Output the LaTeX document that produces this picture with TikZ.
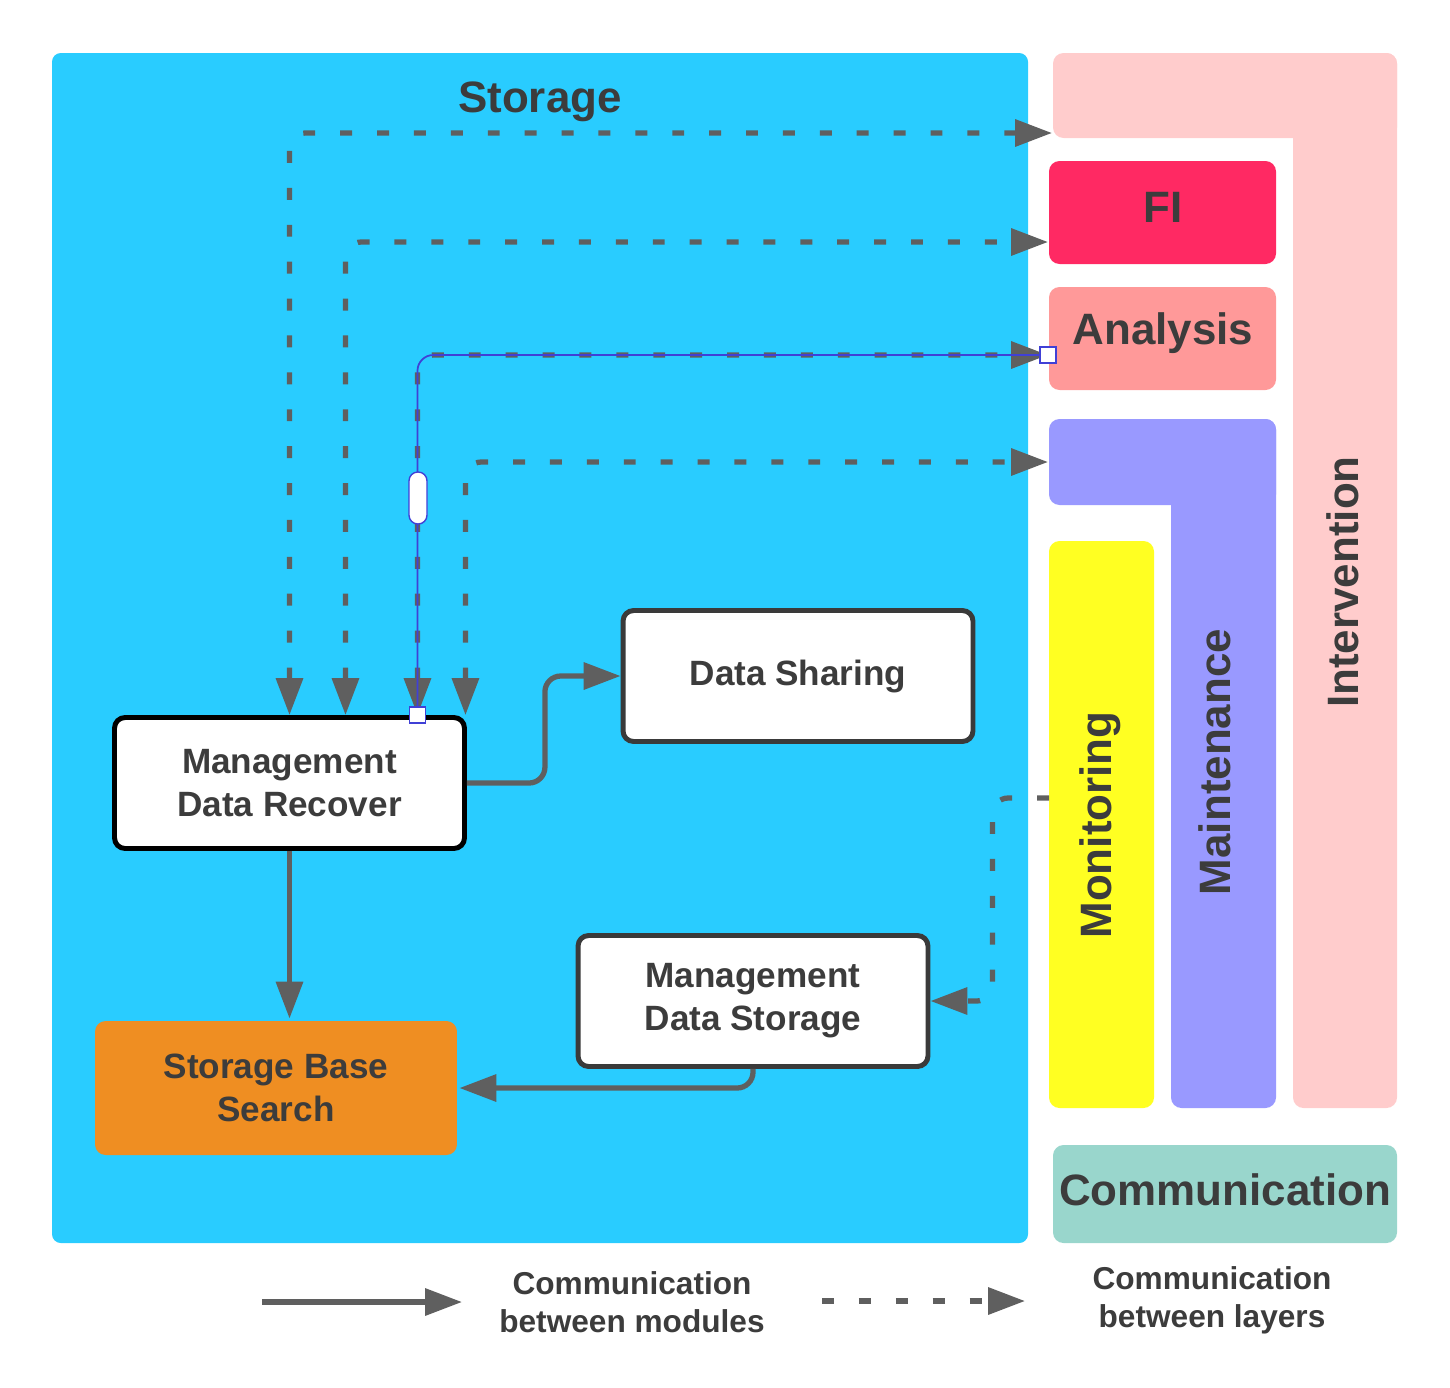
\documentclass[tikz,border=0pt]{standalone}
\usepackage{fontspec}
\setmainfont{Liberation Sans}
\usetikzlibrary{arrows.meta}
\definecolor{storageblue}{RGB}{41,204,255}
\definecolor{intvpink}{RGB}{255,204,204}
\definecolor{fired}{RGB}{255,41,99}
\definecolor{anapink}{RGB}{255,153,153}
\definecolor{mntviolet}{RGB}{153,153,255}
\definecolor{monyellow}{RGB}{255,255,34}
\definecolor{commteal}{RGB}{153,214,204}
\definecolor{sbsorange}{RGB}{239,142,34}
\definecolor{linegrey}{RGB}{95,95,95}
\definecolor{boxgrey}{RGB}{58,58,58}
\definecolor{txtgrey}{RGB}{60,60,60}
\definecolor{selblue}{RGB}{64,64,214}
\begin{document}
\begin{tikzpicture}[x=0.02cm,y=-0.02cm,>={Triangle[length=21pt,width=15pt]},
  conn/.style={draw=linegrey,line width=3pt,rounded corners=9pt},
  layerlink/.style={conn,dash pattern=on 6.8pt off 14.2pt},
  module/.style={draw=boxgrey,line width=2.8pt,fill=white,rounded corners=6pt,align=center,
    text=txtgrey,font=\fontsize{20}{24.4}\selectfont\bfseries,minimum width=7.0cm,minimum height=2.62cm},
  bigtxt/.style={text=txtgrey,font=\fontsize{25}{30}\selectfont\bfseries},
  legtxt/.style={text=txtgrey,align=center,font=\fontsize{18}{21.5}\selectfont\bfseries},
  handle/.style={draw=selblue,line width=0.8pt,fill=white,inner sep=0pt}]
  \useasboundingbox (0,0) rectangle (1450,1387);
  % layers
  \fill[storageblue,rounded corners=5pt] (52,53) rectangle (1028,1243);
  \node[bigtxt] (storage) at (540,102) {Storage};
  \fill[intvpink,rounded corners=6pt] (1053,53) rectangle (1397,138);
  \fill[intvpink,rounded corners=6pt] (1293,53) rectangle (1397,1108);
  \fill[fired,rounded corners=6pt] (1049,161) rectangle (1276,264);
  \fill[anapink,rounded corners=6pt] (1049,287) rectangle (1276,390);
  \fill[mntviolet,rounded corners=6pt] (1049,419) rectangle (1276,505);
  \fill[mntviolet,rounded corners=6pt] (1171,419) rectangle (1276,1108);
  \fill[monyellow,rounded corners=6pt] (1049,541) rectangle (1154,1108);
  \fill[commteal,rounded corners=6pt] (1053,1145) rectangle (1397,1243);
  \node[bigtxt] (fi) at (1163,207) {FI};
  \node[bigtxt] (ana) at (1163,333) {Analysis};
  \node[bigtxt,rotate=90] (intv) at (1343,582) {Intervention};
  \node[bigtxt,rotate=90] (mnt) at (1215,762) {Maintenance};
  \node[bigtxt,rotate=90] (mon) at (1100,825) {Monitoring};
  \node[bigtxt] (comm) at (1225,1190) {Communication};
  \coordinate (intv in) at (1052,133);
  \coordinate (fi in) at (1048,242);
  \coordinate (ana in) at (1048,355);
  \coordinate (mnt in) at (1048,462);
  \coordinate (mon out) at (1049,798);
  % modules
  \node[module,draw=black] (mdr) at (289.5,783) {Management\\Data Recover};
  \node[module] (ds) at (798,676) {Data Sharing};
  \node[module] (mds) at (753,1001) {Management\\Data Storage};
  \node[module,draw=none,fill=sbsorange,minimum width=7.24cm,minimum height=2.68cm] (sbs) at (276,1088) {Storage Base\\Search};
  % connectors
  \draw[layerlink,<->] (mdr.north) -- (mdr.north |- intv in) -- (intv in);
  \draw[layerlink,<->] ([xshift=1.12cm]mdr.north) -- ([xshift=1.12cm]mdr.north |- fi in) -- (fi in);
  \draw[layerlink,<->] ([xshift=2.56cm]mdr.north) -- ([xshift=2.56cm]mdr.north |- ana in) -- (ana in);
  \draw[layerlink,<->] ([xshift=3.52cm]mdr.north) -- ([xshift=3.52cm]mdr.north |- mnt in) -- (mnt in);
  \draw[layerlink,->] (mon out) -| ([xshift=1.24cm]mds.east) -- (mds.east);
  \draw[conn,->] (mdr.east) -- ++(78,0) |- (ds.west);
  \draw[conn,->] (mdr.south) -- (mdr.south |- sbs.north);
  \draw[conn,->] (mds.south) |- (sbs.east);
  % selection handles
  \draw[selblue,line width=1pt,rounded corners=9pt] ([xshift=2.56cm]mdr.north) -- ([xshift=2.56cm]mdr.north |- ana in) -- (ana in);
  \node[handle,minimum size=0.32cm] (hnd a) at ([xshift=2.56cm]mdr.north) {};
  \node[handle,minimum size=0.32cm] (hnd b) at (ana in) {};
  \node[handle,rounded corners=5pt,minimum width=0.36cm,minimum height=1.04cm] (hnd m) at (418,498) {};
  % legend
  \node[legtxt] (leg mod) at (632,1302) {Communication\\between modules};
  \node[legtxt] (leg lay) at (1212,1300) {Communication\\between layers};
  \coordinate (leg a0) at (262,1302);
  \coordinate (leg a1) at (462,1302);
  \coordinate (leg b0) at (822,1301);
  \coordinate (leg b1) at (1025,1301);
  \draw[conn,->] (leg a0) -- (leg a1);
  \draw[layerlink,->] (leg b0) -- (leg b1);
\end{tikzpicture}
\end{document}
